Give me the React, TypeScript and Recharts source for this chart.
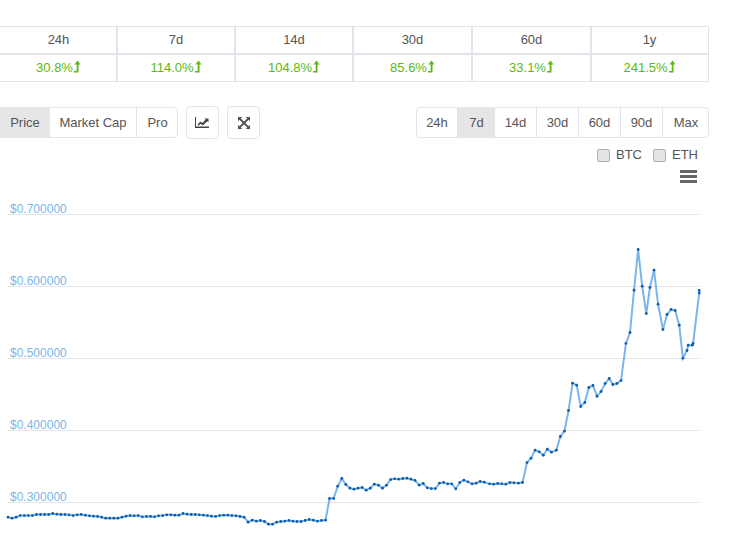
import React from 'react';
import { LineChart, Line, XAxis, YAxis, CartesianGrid } from 'recharts';

const periods = ['24h', '7d', '14d', '30d', '60d', '1y'];
const changes = ['30.8%', '114.0%', '104.8%', '85.6%', '33.1%', '241.5%'];
const yTicks = [0.3, 0.4, 0.5, 0.6, 0.7];

const hours = [
  0, 1, 2, 3, 4, 5, 6, 7, 8, 9, 10, 11, 12, 13, 14, 15, 16, 17, 18, 19,
  20, 21, 22, 23, 24, 25, 26, 27, 28, 29, 30, 31, 32, 33, 34, 35, 36, 37, 38, 39,
  40, 41, 42, 43, 44, 45, 46, 47, 48, 49, 50, 51, 52, 53, 54, 55, 56, 57, 58, 59,
  60, 61, 62, 63, 64, 65, 66, 67, 68, 69, 70, 71, 72, 73, 74, 75, 76, 77, 78, 79,
  80, 81, 82, 83, 84, 85, 86, 87, 88, 89, 90, 91, 92, 93, 94, 95, 96, 97, 98, 99,
  100, 101, 102, 103, 104, 105, 106, 107, 108, 109, 110, 111, 112, 113, 114, 115, 116, 117, 118.3, 119.3,
  120.3, 121.3, 122.3, 123.3, 124.3, 125.4, 126.4, 127.5, 128.5, 129.5, 130.5, 131.5, 132.5, 133.5, 134.7, 135.7, 136.7, 137.7, 138.7, 139.7,
  140.7, 141.7, 142.7, 143.7, 144.7, 145.7, 146.7, 147.7, 148.6, 149.6, 150.6, 151.8, 152.8, 153.8, 154.8, 155.8, 156.8, 157.7, 158.7, 159.7,
  160.9, 161.9, 162.9, 163.9, 164.9, 165.8, 166.8, 167.1, 168.1, 168.3, 169.8, 169.8,
];

const prices = [
  0.2796, 0.2782, 0.2796, 0.2819, 0.2819, 0.2819, 0.2819, 0.2833, 0.2833, 0.2833,
  0.2833, 0.2847, 0.2838, 0.2833, 0.2833, 0.2829, 0.2819, 0.2829, 0.2833, 0.2824,
  0.2815, 0.281, 0.2806, 0.2796, 0.2782, 0.2782, 0.2782, 0.2782, 0.2796, 0.281,
  0.2819, 0.2815, 0.2819, 0.2801, 0.2806, 0.2806, 0.2801, 0.2815, 0.2819, 0.2829,
  0.2829, 0.2824, 0.2824, 0.2847, 0.2838, 0.2833, 0.2833, 0.2829, 0.2824, 0.2819,
  0.281, 0.2806, 0.2819, 0.2824, 0.2824, 0.2819, 0.2815, 0.2806, 0.2796, 0.2727,
  0.2755, 0.2741, 0.275, 0.2736, 0.2699, 0.2699, 0.2727, 0.2736, 0.2741, 0.275,
  0.2741, 0.2736, 0.2736, 0.275, 0.2764, 0.2755, 0.2741, 0.275, 0.2755, 0.3056,
  0.3056, 0.3227, 0.3333, 0.325, 0.3199, 0.3185, 0.3199, 0.3208, 0.3171, 0.3199,
  0.3255, 0.3241, 0.3199, 0.3241, 0.3319, 0.3329, 0.3324, 0.3333, 0.3338, 0.3324,
  0.3306, 0.3241, 0.3264, 0.3204, 0.3194, 0.3194, 0.3269, 0.3278, 0.3259, 0.3259,
  0.319, 0.3278, 0.331, 0.3287, 0.3259, 0.3269, 0.3292, 0.3282, 0.3259, 0.3255,
  0.3264, 0.3259, 0.3255, 0.3278, 0.3273, 0.3268, 0.3278, 0.3555, 0.3616, 0.3727,
  0.3704, 0.3657, 0.3741, 0.3699, 0.3727, 0.3917, 0.3991, 0.4278, 0.4657, 0.463,
  0.4333, 0.4389, 0.4597, 0.4625, 0.4477, 0.4542, 0.4653, 0.4722, 0.4639, 0.4653,
  0.4694, 0.5209, 0.5361, 0.5949, 0.6514, 0.6005, 0.5625, 0.5986, 0.6227, 0.5755,
  0.5403, 0.5611, 0.5681, 0.5667, 0.5463, 0.5005, 0.5111, 0.5185, 0.5185, 0.5209,
  0.5908, 0.5945,
];

const chartData = prices.map((price, i) => ({ t: hours[i], price }));

const FONT = '"Liberation Sans", Arial, sans-serif';
const BORDER = '#e1e4ea';

const box = (left: number, top: number, width: number, height: number, extra: React.CSSProperties = {}): React.CSSProperties => ({
  position: 'absolute', left, top, width, height, boxSizing: 'border-box', ...extra,
});

const UpArrow = () => (
  <svg width="8" height="14" viewBox="0 0 8 14" style={{ verticalAlign: -2 }}>
    <path d="M4.5 0.5 L7.5 4.5 H5.5 V12.5 H1 V11 H3.7 V4.5 H1.5 Z" fill="#5cb811" />
  </svg>
);

const colEdges = [0, 117, 235, 353, 472, 591, 708];

const Table = () => (
  <>
    <div style={box(0, 26, 709, 1, { background: BORDER })} />
    <div style={box(0, 53, 709, 2, { background: BORDER })} />
    <div style={box(0, 81, 709, 1, { background: BORDER })} />
    {colEdges.slice(1, 6).map((x) => (
      <div key={x} style={box(x - 1, 26, 2, 56, { background: BORDER })} />
    ))}
    <div style={box(708, 26, 1, 56, { background: BORDER })} />
    {periods.map((p, i) => (
      <div key={p} style={box(colEdges[i], 27, colEdges[i + 1] - colEdges[i], 26, { textAlign: 'center', lineHeight: '25px', color: '#555' })}>
        {p}
      </div>
    ))}
    {changes.map((c, i) => (
      <div key={c} style={box(colEdges[i], 54, colEdges[i + 1] - colEdges[i], 27, { textAlign: 'center', lineHeight: '27px', color: '#5cb811' })}>
        {c}
        <UpArrow />
      </div>
    ))}
  </>
);

const btnGroups = [
  { label: 'Price', x: 0, w: 50, active: true },
  { label: 'Market Cap', x: 50, w: 87 },
  { label: 'Pro', x: 137, w: 41 },
  { label: '24h', x: 417, w: 41 },
  { label: '7d', x: 458, w: 37, active: true },
  { label: '14d', x: 495, w: 42 },
  { label: '30d', x: 537, w: 42 },
  { label: '60d', x: 579, w: 42 },
  { label: '90d', x: 621, w: 42 },
  { label: 'Max', x: 663, w: 46 },
];

const Buttons = () => (
  <>
    <div style={box(-2, 107, 180, 31, { border: `1px solid ${BORDER}`, borderRadius: 4 })} />
    <div style={box(416, 107, 293, 31, { border: `1px solid ${BORDER}`, borderRadius: 4 })} />
    {btnGroups.map((b) => (
      <div
        key={b.label}
        style={box(b.x, 107, b.w, 31, {
          textAlign: 'center',
          lineHeight: '31px',
          color: '#555',
          background: b.active ? '#e6e6e6' : 'transparent',
          borderRight: b.active || b.label === 'Pro' || b.label === 'Max' ? 'none' : `1px solid ${BORDER}`,
        })}
      >
        {b.label}
      </div>
    ))}
    <div style={box(186, 106, 33, 33, { border: `1px solid ${BORDER}`, borderRadius: 4 })}>
      <svg width="14" height="11" viewBox="0 0 14 11" style={{ position: 'absolute', left: 8, top: 10 }}>
        <path d="M1 0 V9.5 H14 V11 H0 V0 Z" fill="#444" />
        <path d="M2.5 7.5 L5.5 4.5 L7.5 6 L10.5 2.5 L9.5 1.5 H13.5 V5.5 L12.3 4.3 L7.8 8.5 L5.6 6.8 L3.5 8.8 Z" fill="#444" />
      </svg>
    </div>
    <div style={box(227, 106, 33, 33, { border: `1px solid ${BORDER}`, borderRadius: 4 })}>
      <svg width="12" height="12" viewBox="0 0 13 13" style={{ position: 'absolute', left: 10, top: 10 }}>
        <path d="M0 0 H4.5 L3 1.5 L6.5 5 L10 1.5 L8.5 0 H13 V4.5 L11.5 3 L8 6.5 L11.5 10 L13 8.5 V13 H8.5 L10 11.5 L6.5 8 L3 11.5 L4.5 13 H0 V8.5 L1.5 10 L5 6.5 L1.5 3 L0 4.5 Z" fill="#555" />
      </svg>
    </div>
    <div style={box(597, 149, 13, 13, { background: '#e4e4e4', border: '1px solid #b0b0b0', borderRadius: 2 })} />
    <div style={box(616, 146, 30, 18, { lineHeight: '18px', color: '#555' })}>BTC</div>
    <div style={box(653, 149, 13, 13, { background: '#e4e4e4', border: '1px solid #b0b0b0', borderRadius: 2 })} />
    <div style={box(672, 146, 30, 18, { lineHeight: '18px', color: '#555' })}>ETH</div>
    {[170, 175, 180].map((y) => (
      <div key={y} style={box(680, y, 17, 3, { background: '#666' })} />
    ))}
  </>
);

const PriceTick = ({ y, payload }: any) => (
  <text x={10} y={y - 2} fontSize={12} fontFamily={FONT} fill="#7cb5ec" textAnchor="start">
    {`$${payload.value.toFixed(6)}`}
  </text>
);

export default function App() {
  return (
    <div style={{ position: 'absolute', left: 0, top: 0, width: 731, height: 539, overflow: 'hidden', background: '#fff', fontFamily: FONT, fontSize: 13 }}>
      <Table />
      <Buttons />
      <div style={{ position: 'absolute', left: 0, top: 0 }}>
        <LineChart width={731} height={539} data={chartData} margin={{ top: 214.5, right: 31, bottom: 0.5, left: 8 }}>
          <CartesianGrid horizontal vertical={false} stroke="#e6e6e6" syncWithTicks />
          <XAxis dataKey="t" type="number" domain={[0, 170]} hide />
          <YAxis
            type="number"
            domain={[0.25, 0.7]}
            ticks={yTicks}
            mirror
            axisLine={false}
            tickLine={false}
            tick={PriceTick}
          />
          <Line
            dataKey="price"
            type="linear"
            stroke="#7cb5ec"
            strokeWidth={2}
            dot={{ r: 1.4, fill: '#0a5fad', stroke: 'none' }}
            isAnimationActive={false}
          />
        </LineChart>
      </div>
    </div>
  );
}
